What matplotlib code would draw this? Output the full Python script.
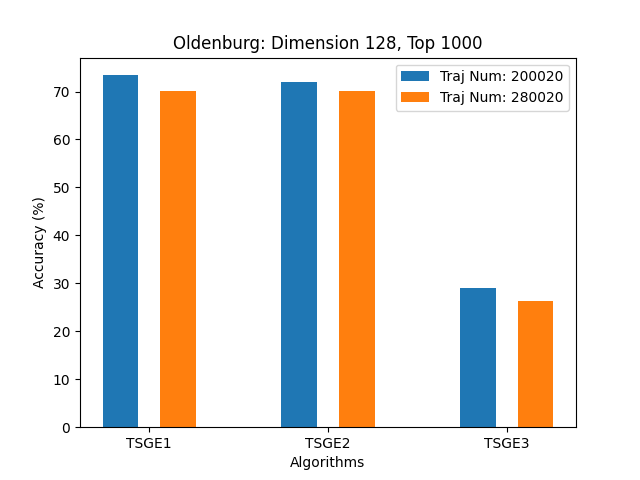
import matplotlib
matplotlib.use("Agg")
import matplotlib.pyplot as plt
import numpy as np

algorithms = ["TSGE1", "TSGE2", "TSGE3"]
traj_200020 = [73.4, 71.9, 29.0]
traj_280020 = [70.1, 70.1, 26.3]

x = np.arange(len(algorithms))
w = 0.2
fig, ax = plt.subplots(figsize=(6.4, 4.8), dpi=100)
ax.bar(x - 0.16, traj_200020, w, label="Traj Num: 200020")
ax.bar(x + 0.16, traj_280020, w, label="Traj Num: 280020")
ax.set_xticks(x)
ax.set_xticklabels(algorithms)
ax.set_xlabel("Algorithms")
ax.set_ylabel("Accuracy (%)")
ax.set_title("Oldenburg: Dimension 128, Top 1000")
ax.legend()
fig.savefig("out.png")
